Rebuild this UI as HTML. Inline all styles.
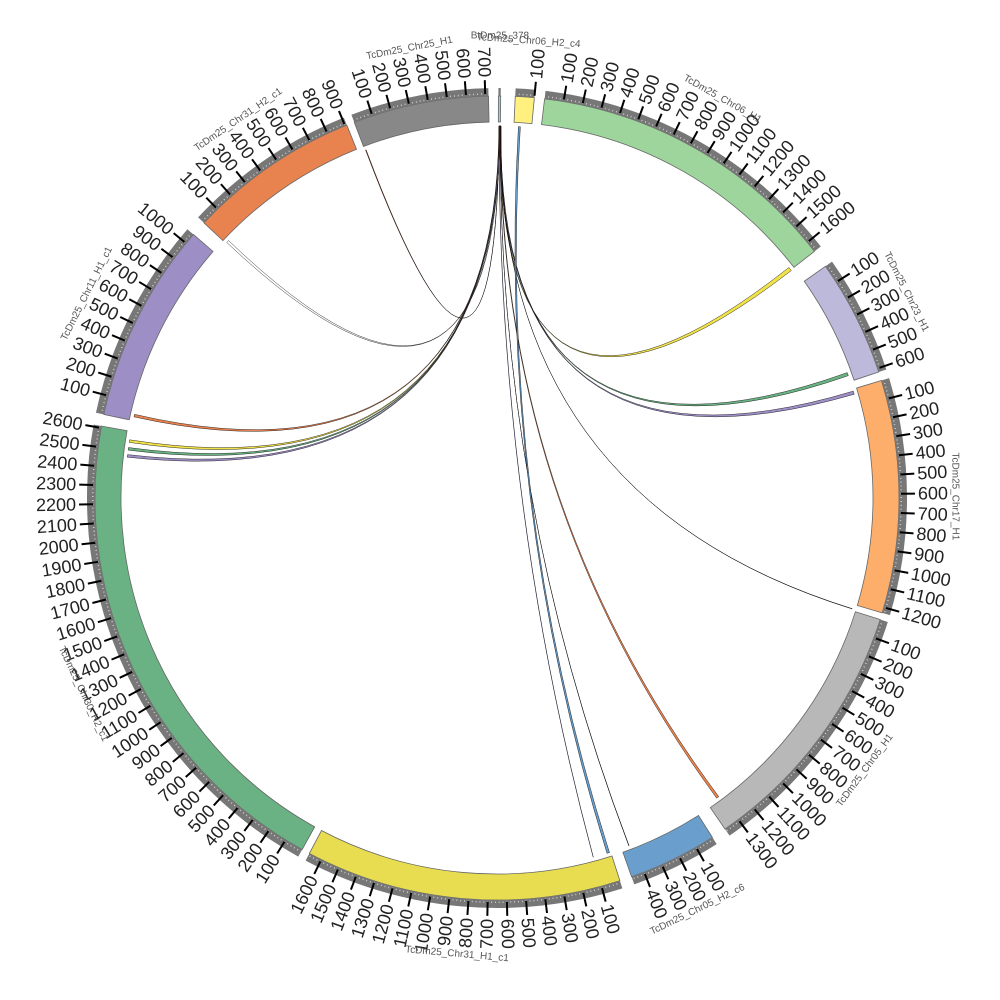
<!DOCTYPE html>
<html><head><meta charset="utf-8"><style>
html,body{margin:0;padding:0;background:#fff;}
svg{display:block;font-family:"Liberation Sans",sans-serif;}
</style></head><body>
<svg id="s" width="1000" height="1000" viewBox="0 0 1000 1000"></svg>
<script>
const CX=497,CY=498,RI=376,RO=402,RB=410;
const K=1/36.6;
const segs=[
["TcDm25_Chr25_H1",339.2,717,"#888888"],
["BtDm25_378",0.2,12,"#9ecae1"],
["TcDm25_Chr06_H2_c4",2.6,100,"#fff080"],
["TcDm25_Chr06_H1",6.8,1660,"#9dd59c"],
["TcDm25_Chr23_H1",54.8,620,"#bcb9da"],
["TcDm25_Chr17_H1",73,1230,"#fdae6b"],
["TcDm25_Chr05_H1",107.6,1385,"#b8b8b8"],
["TcDm25_Chr05_H2_c6",147.6,470,"#6a9fcd"],
["TcDm25_Chr31_H1_c1",162.2,1670,"#e8dd50"],
["TcDm25_Chr30_H2_c1",209,2610,"#6ab283"],
["TcDm25_Chr11_H1_c1",282,1060,"#9e8ec6"],
["TcDm25_Chr31_H2_c1",313.2,910,"#e8834f"]
];
function P(r,a){const t=a*Math.PI/180;return [CX+r*Math.sin(t),CY-r*Math.cos(t)];}
function f(p){return p[0].toFixed(2)+","+p[1].toFixed(2);}
let h="";
function arcPath(r1,r2,a1,a2){const l=(a2-a1)>180?1:0;
return "M"+f(P(r2,a1))+"A"+r2+","+r2+" 0 "+l+" 1 "+f(P(r2,a2))+"L"+f(P(r1,a2))+"A"+r1+","+r1+" 0 "+l+" 0 "+f(P(r1,a1))+"Z";}
const links=[
[0.3,0.35,339.3,339.4,"#c05020"],
[0.3,0.45,313.4,313.8,"#ffffff"],
[0.3,0.45,282.6,283.0,"#e8834f"],
[0.4,0.55,278.6,279.0,"#f2e24a"],
[0.4,0.55,277.4,277.8,"#6ab283"],
[0.4,0.55,276.3,276.7,"#9e8ec6"],
[0.45,0.6,51.7,52.3,"#f2e24a"],
[0.45,0.6,70.3,70.8,"#6ab283"],
[0.45,0.6,73.3,73.8,"#9e8ec6"],
[0.5,0.52,107.3,107.35,"#000"],
[0.5,0.6,143.4,143.8,"#e8834f"],
[0.5,0.52,159.2,159.25,"#000"],
[3.3,3.6,162.4,162.8,"#6a9fcd"]
];
const RL=372;
links.forEach(l=>{
const s1=P(RL,l[0]),s2=P(RL,l[1]),t1=P(RL,l[2]),t2=P(RL,l[3]);
const d="M"+f(s1)+"A"+RL+","+RL+" 0 0 1 "+f(s2)+"Q"+CX+","+CY+" "+f(t1)+"A"+RL+","+RL+" 0 0 1 "+f(t2)+"Q"+CX+","+CY+" "+f(s1)+"Z";
h+='<path d="'+d+'" fill="'+l[4]+'" stroke="#000" stroke-width="0.5" stroke-opacity="0.8"/>';
});
h+='<path d="M'+f(P(RL,0.35))+'Q'+CX+','+CY+' '+f(P(RL,165))+'" fill="none" stroke="#223" stroke-width="0.7"/>';
segs.forEach(s=>{
const a1=s[1],a2=s[1]+s[2]*K;
h+='<path d="'+arcPath(RI,RO,a1,a2)+'" fill="'+s[3]+'" stroke="#666" stroke-width="0.8"/>';
h+='<path d="'+arcPath(RO,RB,a1,a2)+'" fill="#777" stroke="none"/>';
for(let u=20;u<s[2];u+=20){const p1=P(RO+1.5,a1+u*K),p2=P(RO+3,a1+u*K);
h+='<line x1="'+p1[0]+'" y1="'+p1[1]+'" x2="'+p2[0]+'" y2="'+p2[1]+'" stroke="#ddd" stroke-width="0.8"/>';}
for(let u=100;u<=s[2];u+=100){const a=a1+u*K;const p1=P(RO+2,a),p2=P(RO+16,a);
h+='<line x1="'+p1[0].toFixed(2)+'" y1="'+p1[1].toFixed(2)+'" x2="'+p2[0].toFixed(2)+'" y2="'+p2[1].toFixed(2)+'" stroke="#000" stroke-width="2"/>';
const q=P(RO+19,a);let rot,anc;
if(a<180){rot=a-90;anc="start";}else{rot=a+90;anc="end";}
h+='<text x="'+q[0].toFixed(2)+'" y="'+q[1].toFixed(2)+'" font-size="18" fill="#222" text-anchor="'+anc+'" dominant-baseline="central" transform="rotate('+rot.toFixed(2)+' '+q[0].toFixed(2)+' '+q[1].toFixed(2)+')">'+u+'</text>';}
const m=(a1+a2)/2;const r=(s[0]=="BtDm25_378")?462:458;
const q=P(r,m);let rot=m;if(m>90.5&&m<270)rot=m-180;
h+='<text x="'+q[0].toFixed(2)+'" y="'+q[1].toFixed(2)+'" font-size="10" fill="#555" text-anchor="middle" dominant-baseline="central" transform="rotate('+rot.toFixed(2)+' '+q[0].toFixed(2)+' '+q[1].toFixed(2)+')">'+s[0]+'</text>';
});
document.getElementById("s").innerHTML=h;
</script>
</body></html>
